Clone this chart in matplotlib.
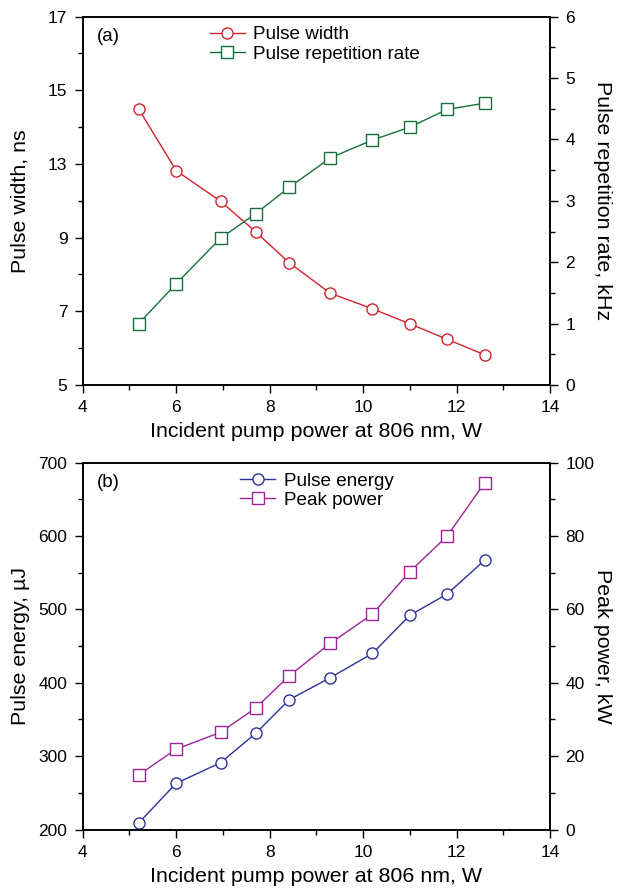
import matplotlib
matplotlib.use("Agg")
import matplotlib.pyplot as plt
from matplotlib.ticker import MultipleLocator, FixedLocator, FixedFormatter

plt.rcParams["font.family"] = ["Liberation Sans", "DejaVu Sans"]

# Incident pump power (W), shared by both panels
pump_power = [5.2, 6.0, 6.95, 7.7, 8.42, 9.3, 10.2, 11.0, 11.8, 12.6]

# Panel (a): pulse width in axis units (the printed scale skips "11")
pulse_width = [12.49, 10.82, 9.99, 9.16, 8.32, 7.49, 7.07, 6.66, 6.24, 5.82]
width_ticks = [5, 7, 9, 11, 13, 15]
width_tick_labels = ["5", "7", "9", "13", "15", "17"]
rep_rate = [1.0, 1.65, 2.39, 2.79, 3.22, 3.70, 3.99, 4.20, 4.49, 4.59]   # kHz

# Panel (b)
pulse_energy = [209, 263, 291, 331, 377, 407, 440, 492, 521, 567]      # uJ
peak_power = [14.9, 21.9, 26.5, 33.1, 41.9, 50.8, 58.7, 70.3, 80.0, 94.5]  # kW

RED = "#d2232f"
GREEN = "#17703c"
BLUE = "#2c3199"
PURPLE = "#9e2399"

fig = plt.figure(figsize=(6.25, 8.91), dpi=100)
ax_a = fig.add_axes([0.1323, 0.5679, 0.7477, 0.4134])
ax_b = fig.add_axes([0.1323, 0.0690, 0.7477, 0.4117])


def style_axes(ax, ax2, left_label, right_label):
    """Outward ticks with minor ticks, no ticks on the top spine."""
    for a in (ax, ax2):
        a.tick_params(which="major", direction="out", length=6, width=1,
                      labelsize=12.5, pad=5)
        a.tick_params(which="minor", direction="out", length=3.5, width=1)
        for s in a.spines.values():
            s.set_linewidth(1.2)
    ax.tick_params(top=False, right=False)
    ax2.tick_params(top=False, bottom=False, left=False)
    ax.xaxis.set_major_locator(MultipleLocator(2))
    ax.xaxis.set_minor_locator(MultipleLocator(1))
    ax.set_xlim(4, 14)
    ax.set_xlabel("Incident pump power at 806 nm, W", fontsize=15.4, labelpad=5)
    ax.set_ylabel(left_label, fontsize=15.4, va="center")
    ax.yaxis.set_label_coords(-0.134, 0.5)
    ax2.set_ylabel(right_label, fontsize=15.4, rotation=-90, va="center")
    ax2.yaxis.set_label_coords(1.113, 0.5)


mk = dict(markersize=8, markerfacecolor="white", markeredgewidth=1, linewidth=1)
leg_kw = dict(loc="upper left", frameon=False, fontsize=13.6, handlelength=1.85,
              handletextpad=0.45, labelspacing=0.1, borderpad=0, borderaxespad=0)

# ---- panel (a)
ax_a2 = ax_a.twinx()
la, = ax_a.plot(pump_power, pulse_width, "-o", color=RED, label="Pulse width", **mk)
lb, = ax_a2.plot(pump_power, rep_rate, "-s", color=GREEN, label="Pulse repetition rate", **mk)
ax_a.set_ylim(5, 15)
ax_a.yaxis.set_major_locator(FixedLocator(width_ticks))
ax_a.yaxis.set_major_formatter(FixedFormatter(width_tick_labels))
ax_a.yaxis.set_minor_locator(MultipleLocator(1))
ax_a2.set_ylim(0, 6)
ax_a2.yaxis.set_major_locator(MultipleLocator(1))
ax_a2.yaxis.set_minor_locator(MultipleLocator(0.5))
style_axes(ax_a, ax_a2, "Pulse width, ns", "Pulse repetition rate, kHz")
ax_a.text(0.03, 0.945, "(a)", transform=ax_a.transAxes, fontsize=13.5, va="center")
ax_a.legend(handles=[la, lb], bbox_to_anchor=(0.272, 0.974), **leg_kw)

# ---- panel (b)
ax_b2 = ax_b.twinx()
lc, = ax_b.plot(pump_power, pulse_energy, "-o", color=BLUE, label="Pulse energy", **mk)
ld, = ax_b2.plot(pump_power, peak_power, "-s", color=PURPLE, label="Peak power", **mk)
ax_b.set_ylim(200, 700)
ax_b.yaxis.set_major_locator(MultipleLocator(100))
ax_b.yaxis.set_minor_locator(MultipleLocator(50))
ax_b2.set_ylim(0, 100)
ax_b2.yaxis.set_major_locator(MultipleLocator(20))
ax_b2.yaxis.set_minor_locator(MultipleLocator(10))
style_axes(ax_b, ax_b2, "Pulse energy, µJ", "Peak power, kW")
ax_b.text(0.03, 0.945, "(b)", transform=ax_b.transAxes, fontsize=13.5, va="center")
ax_b.legend(handles=[lc, ld], bbox_to_anchor=(0.337, 0.973), **leg_kw)

fig.savefig("out.png", dpi=100)
